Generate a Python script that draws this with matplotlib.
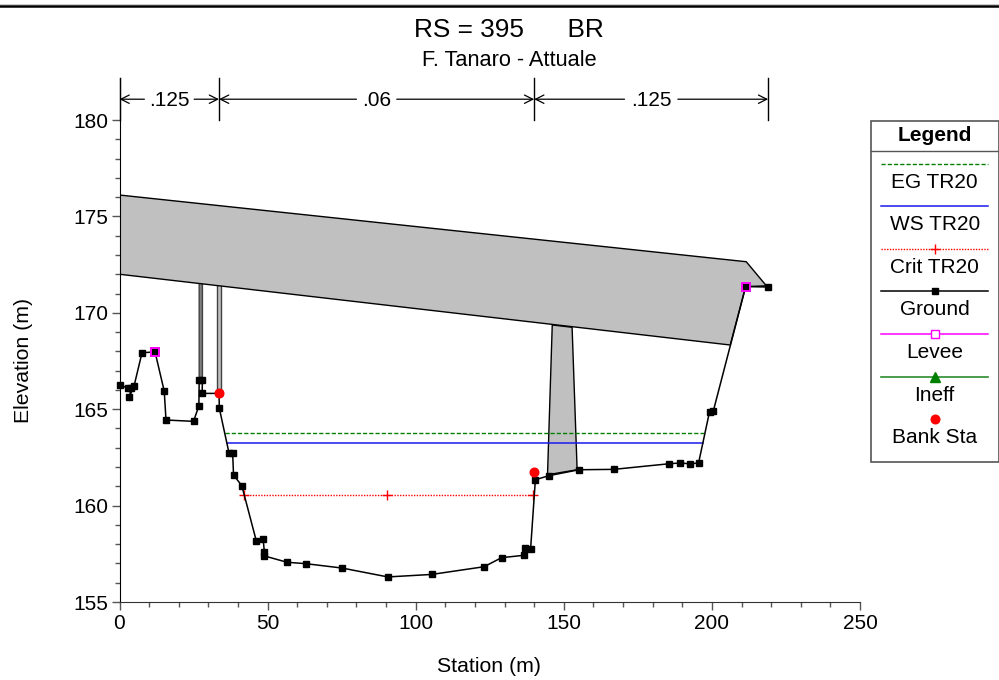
from matplotlib.lines import Line2D
import matplotlib
matplotlib.use("Agg")
import matplotlib.pyplot as plt
from matplotlib.patches import Rectangle, Polygon

plt.rcParams["font.family"] = ["Liberation Sans", "DejaVu Sans"]

# ground profile
ground_x = [0, 2.8, 4.0, 3.3, 4.9, 7.6, 12, 15.1, 15.7, 25, 26.8, 26.9, 28, 27.9, 33.6, 33.7,
            37, 38.2, 38.5, 41.3, 46.2, 48.5, 48.9, 48.9, 56.6, 62.8, 75.2, 90.6, 105.4,
            123.1, 129, 136.4, 137, 138.8, 140.4, 144.9, 155.1, 166.9, 185.5, 189.1, 192.5,
            195.5, 199.2, 200.5, 211.4, 219]
ground_y = [166.26, 166.1, 166.1, 165.63, 166.2, 167.93, 167.97, 165.94, 164.44, 164.37, 165.18,
            166.53, 166.53, 165.82, 165.82, 165.05, 162.71, 162.71, 161.59, 161.03, 158.16,
            158.25, 157.61, 157.39, 157.06, 156.99, 156.76, 156.3, 156.43, 156.83, 157.3,
            157.42, 157.79, 157.77, 161.34, 161.55, 161.86, 161.88, 162.17, 162.21, 162.17,
            162.21, 164.87, 164.92, 171.36, 171.34]

# bridge deck and piers
deck_x = [0, 211.6, 218.4, 211.4, 206.2, 0]
deck_y = [176.11, 172.65, 171.4, 171.36, 168.33, 172.0]
pier1_x = [26.9, 28.0, 28.0, 26.9]
pier1_y = [171.6, 171.5, 166.53, 166.53]
pier2_x = [33.0, 34.1, 34.1, 33.0]
pier2_y = [171.5, 171.5, 165.82, 165.82]
pier3_x = [146.1, 152.8, 154.5, 144.5]
pier3_y = [169.37, 169.25, 161.86, 161.6]

# water surfaces
eg_x = [35.6, 197.3]
eg_y = [163.78, 163.78]
ws_x = [36.4, 196.9]
ws_y = [163.25, 163.25]
crit_x = [42, 90.3, 139.6]
crit_y = [160.53, 160.53, 160.53]

levee_x = [12, 211.4]
levee_y = [167.97, 171.36]
bank_x = [33.6, 140]
bank_y = [165.85, 161.74]

# manning n
n_bounds = [0, 33.6, 140, 219]
n_labels = [".125", ".06", ".125"]
n_label_x = [16.8, 86.8, 179.5]
n_gaps = [8.4, 6.8, 9.0]

legend_labels = ["EG TR20", "WS TR20", "Crit TR20", "Ground", "Levee", "Ineff", "Bank Sta"]
x_ticks = [0, 50, 100, 150, 200, 250]
y_ticks = [155, 160, 165, 170, 175, 180]

W, H = 999, 680
FS = 15
fig = plt.figure(figsize=(W / 100, H / 100), dpi=100, facecolor="white")
ax = fig.add_axes([119.5 / W, 1 - 602 / H, (860 - 119.5) / W, (602 - 78) / H])
ax.set_xlim(0, 250)
ax.set_ylim(155, 182.18)
ax.spines["top"].set_visible(False)
ax.spines["right"].set_visible(False)
ax.spines["bottom"].set_color("#333333")
ax.set_xticks(x_ticks)
ax.set_yticks(y_ticks)
ax.set_xticks(range(0, 251, 10), minor=True)
ax.set_yticks(range(155, 181), minor=True)
ax.tick_params(axis="both", which="major", length=5.8, width=1, color="#555555", labelsize=FS)
ax.tick_params(axis="both", which="minor", length=3.6, width=1, color="#555555")
ax.tick_params(axis="x", which="major", pad=3)
ax.tick_params(axis="y", which="major", pad=2.5)
ax.set_xlabel("Station (m)", fontsize=15.3, va="center")
ax.set_ylabel("Elevation (m)", fontsize=15.3, va="center")
ax.xaxis.set_label_coords((489 - 119.5) / 740.5, -65 / 524)
ax.yaxis.set_label_coords((23 - 119.5) / 740.5, (602 - 360) / 524)

ax.add_patch(Polygon(list(zip(pier1_x, pier1_y)), closed=True, fc="#808080", ec="#404040", lw=1, zorder=1.5))
ax.add_patch(Polygon(list(zip(pier2_x, pier2_y)), closed=True, fc="#c0c0c0", ec="#404040", lw=1, zorder=1.5))
ax.add_patch(Polygon(list(zip(pier3_x, pier3_y)), closed=True, fc="#c0c0c0", ec="black", lw=1, zorder=1.5))
ax.add_patch(Polygon(list(zip(deck_x, deck_y)), closed=True, fc="#c0c0c0", ec="black", lw=1, zorder=2))

ax.plot(eg_x, eg_y, color="#008000", lw=1, ls=(0, (3, 1.5)), zorder=3)
ax.plot(ws_x, ws_y, color="#1a1aee", lw=1.1, zorder=3)
ax.plot(crit_x, crit_y, color="#ff0000", lw=1, ls=(0, (1, 1)), marker="+", ms=7, mew=1, zorder=3)
ax.plot(ground_x, ground_y, color="black", lw=1.1, marker="s", ms=4.2, zorder=4, clip_on=False)
ax.plot(levee_x, levee_y, ls="none", marker="s", ms=6, mfc="none", mec="#ff00ff", mew=1.4, zorder=5)
ax.plot(bank_x, bank_y, ls="none", marker="o", ms=6.2, color="#ff0000", zorder=6)

# manning n strip above the plot
n_y = 181.08
n_tick_low = 180.0
for b in n_bounds:
    ax.plot([b, b], [n_tick_low, 182.18], color="black", lw=1, clip_on=False, zorder=7)
for left, right, lab, mid, gap in zip(n_bounds[:-1], n_bounds[1:], n_labels, n_label_x, n_gaps):
    ax.text(mid, n_y - 0.05, lab, ha="center", va="center", fontsize=FS)
    for end, start in [(left, mid - gap), (right, mid + gap)]:
        ax.annotate("", xy=(end, n_y), xytext=(start, n_y),
                    arrowprops=dict(arrowstyle="->", lw=0.9, color="black", shrinkA=0, shrinkB=0,
                                    mutation_scale=15))

fig.text(509 / W, 1 - 30 / H, "RS = 395      BR", ha="center", va="center", fontsize=18.9)
fig.text(509.8 / W, 1 - 61 / H, "F. Tanaro - Attuale", ha="center", va="center", fontsize=15.7)

# top rule
fig.add_artist(Line2D([0, 1], [1 - 6 / H, 1 - 6 / H], color="black", lw=1.8))
fig.add_artist(Line2D([0, 1], [1 - 4 / H, 1 - 4 / H], color="#c8c8c8", lw=0.7))

# legend drawn by hand, pixel coordinates
lg = fig.add_axes([0, 0, 1, 1], facecolor="none")
lg.set_xlim(0, W)
lg.set_ylim(H, 0)
lg.axis("off")
lg.add_patch(Rectangle((871, 121), 127.5, 341, fc="white", ec="#555555", lw=1.2))
lg.plot([871, 998.5], [151, 151], color="#555555", lw=1)
lg.text(934.7, 135.5, "Legend", ha="center", va="center", fontsize=FS, fontweight="bold")

line_styles = [
    dict(color="#008000", lw=1, ls=(0, (3, 1.5))),
    dict(color="#1a1aee", lw=1.1),
    dict(color="#ff0000", lw=1, ls=(0, (1, 1))),
    dict(color="black", lw=1.1),
    dict(color="#ff00ff", lw=1.1),
    dict(color="#2e8b2e", lw=1.2),
    None,
]
marker_styles = [
    None,
    None,
    dict(color="#ff0000", marker="+", ms=7, mew=1),
    dict(color="black", marker="s", ms=4.2),
    dict(marker="s", ms=6, mfc="white", mec="#ff00ff", mew=1),
    dict(marker="^", ms=7, mfc="#008000", mec="#008000"),
    dict(color="#ff0000", marker="o", ms=6.2),
]
row_h = 42.65
for i, lab in enumerate(legend_labels):
    y0 = 163.5 + i * row_h
    if line_styles[i]:
        lg.plot([881, 988], [y0, y0], **line_styles[i])
    if marker_styles[i]:
        lg.plot([934.7], [y0], ls="none", **marker_styles[i])
    lg.text(934.7, y0 + 18.5, lab, ha="center", va="center", fontsize=FS)

fig.savefig("out.png", dpi=100)
